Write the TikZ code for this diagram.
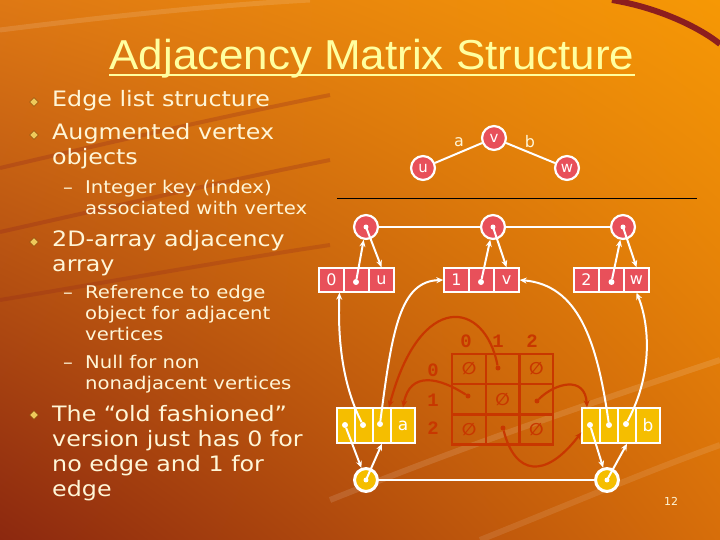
\documentclass[tikz,border=0pt]{standalone}
\usepackage{fontspec}
\usetikzlibrary{arrows.meta,shapes.geometric,calc,shadings}
\newfontfamily\bodyfont[FakeStretch=1.12]{DejaVu Sans}
\newfontfamily\dgfont{DejaVu Sans}
\newfontfamily\titlefont[FakeStretch=1.05]{Liberation Sans}
\newfontfamily\mtxfont{Liberation Mono}
\definecolor{cream}{RGB}{255,246,215}
\definecolor{ttl}{RGB}{255,255,160}
\definecolor{vred}{RGB}{232,80,90}
\definecolor{eyel}{RGB}{245,190,0}
\definecolor{mred}{RGB}{200,55,0}
\definecolor{bgUL}{RGB}{222,120,20}
\definecolor{bgUR}{RGB}{246,152,5}
\definecolor{bgLL}{RGB}{140,40,15}
\definecolor{bgLR}{RGB}{215,110,10}
\definecolor{maroon}{RGB}{140,30,30}
\definecolor{bulletgold}{RGB}{238,200,90}
\begin{document}
\begin{tikzpicture}[x=1bp,y=-1bp,
  lone/.style={anchor=base west,inner sep=0,text=cream,font=\bodyfont\fontsize{21.3}{25}\selectfont},
  ltwo/.style={anchor=base west,inner sep=0,text=cream,font=\bodyfont\fontsize{17.6}{21}\selectfont},
  bul/.style={diamond,fill=bulletgold,draw={rgb,255:red,120;green,60;blue,0},line width=0.4,minimum size=9,inner sep=0},
  vcirc/.style={circle,fill=vred,draw=white,line width=2.2,minimum size=24,inner sep=0,text=white,font=\dgfont\fontsize{15}{15}\selectfont},
  vcell/.style={rectangle,fill=vred,draw=white,line width=1.5,minimum width=25,minimum height=24,inner sep=0,text=white,font=\dgfont\fontsize{16}{16}\selectfont},
  ecell/.style={rectangle,fill=eyel,draw=white,line width=1.5,minimum width=18,minimum height=35,inner sep=0,text=white,font=\dgfont\fontsize{17}{17}\selectfont},
  elab/.style={ecell,minimum width=24},
  ecirc/.style={circle,fill=eyel,draw=white,line width=3,minimum size=23,inner sep=0},
  wdot/.style={circle,fill=white,minimum size=6,inner sep=0},
  rdot/.style={circle,fill=mred,minimum size=5,inner sep=0},
  wline/.style={white,line width=2},
  warrow/.style={white,line width=2,-{Stealth[length=7,width=6]}},
  rarrow/.style={mred,line width=2.2,-{Stealth[length=7,width=6]}},
  mcell/.style={rectangle,draw=mred,line width=2.5,minimum width=33.7,minimum height=30.3,inner sep=0,text=mred,font=\dgfont\bfseries\fontsize{17}{17}\selectfont},
  mlab/.style={inner sep=0,text=mred,font=\mtxfont\bfseries\fontsize{19}{19}\selectfont},
  glab/.style={inner sep=0,text=cream,font=\dgfont\fontsize{16}{16}\selectfont}
]
\useasboundingbox (0,0) rectangle (720,540);
% background
\shade[upper left=bgUL,upper right=bgUR,lower left=bgLL,lower right=bgLR] (0,0) rectangle (720,540);
\draw[maroon,line width=6] (612,0) .. controls (660,8) and (700,28) .. (720,44);
\draw[white,opacity=0.12,line width=5] (0,30) .. controls (120,15) and (220,5) .. (310,0);
\draw[maroon,opacity=0.25,line width=4] (0,168) .. controls (120,140) and (230,115) .. (330,95);
\draw[maroon,opacity=0.25,line width=4] (0,232) .. controls (120,205) and (230,180) .. (330,160);
\draw[maroon,opacity=0.22,line width=4] (0,300) .. controls (120,280) and (230,260) .. (330,245);
\draw[white,opacity=0.12,line width=6] (330,500) .. controls (480,440) and (600,400) .. (720,360);
\draw[white,opacity=0.10,line width=6] (480,540) .. controls (580,500) and (650,470) .. (720,445);

% title
\node[anchor=base,inner sep=0,text=ttl,font=\titlefont\fontsize{42}{50}\selectfont] (title) at (372,70) {Adjacency Matrix Structure};
\draw[ttl,line width=2.5] ([yshift=-5]title.base west) -- ([yshift=-5]title.base east);

% bullets and text
\node[bul] (bu1) at (34,102) {};
\node[bul] (bu2) at (34,135) {};
\node[bul] (bu3) at (34,242) {};
\node[bul] (bu4) at (34,415) {};
\node[lone] (t1) at (52,107) {Edge list structure};
\node[lone] (t2) at (52,140) {Augmented vertex};
\node[lone] (t3) at (52,165) {objects};
\node[ltwo] (ds1) at (63,194) {–};
\node[ltwo] (t4) at (85,194) {Integer key (index)};
\node[ltwo] (t5) at (85,215) {associated with vertex};
\node[lone] (t6) at (52,247) {2D-array adjacency};
\node[lone] (t7) at (52,272) {array};
\node[ltwo] (ds2) at (63,298) {–};
\node[ltwo] (t8) at (85,298) {Reference to edge};
\node[ltwo] (t9) at (85,319) {object for adjacent};
\node[ltwo] (t10) at (85,340) {vertices};
\node[ltwo] (ds3) at (63,368) {–};
\node[ltwo] (t11) at (85,368) {Null for non};
\node[ltwo] (t12) at (85,389) {nonadjacent vertices};
\node[lone] (t13) at (52,421) {The “old fashioned”};
\node[lone] (t14) at (52,446) {version just has 0 for};
\node[lone] (t15) at (52,471) {no edge and 1 for};
\node[lone] (t16) at (52,496) {edge};

% top graph
\node[vcirc] (u) at (423,168) {u};
\node[vcirc] (v) at (494,138) {v};
\node[vcirc] (w) at (567,168) {w};
\draw[wline] (u) -- (v);
\draw[wline] (v) -- (w);
\node[glab] (la) at (459,142) {a};
\node[glab] (lb) at (530,142) {b};
\coordinate (hlA) at (337,198);
\coordinate (hlB) at (697,198);
\draw[black,line width=0.8] (hlA) -- (hlB);

% vertex position circles
\node[vcirc] (c0) at (366,227) {};
\node[vcirc] (c1) at (493,227) {};
\node[vcirc] (c2) at (623,227) {};
\draw[wline] (c0) -- (c1);
\draw[wline] (c1) -- (c2);
\node[wdot,minimum size=5] (cd0) at (366,227) {};
\node[wdot,minimum size=5] (cd1) at (493,227) {};
\node[wdot,minimum size=5] (cd2) at (623,227) {};

% vertex boxes
\node[vcell] (b00) at (331.5,280) {0};
\node[vcell] (b0d) at (356.5,280) {};
\node[vcell] (b0u) at (381.5,280) {u};
\node[vcell] (b10) at (456.5,280) {1};
\node[vcell] (b1d) at (481.5,280) {};
\node[vcell] (b1v) at (506.5,280) {v};
\node[vcell] (b20) at (586.5,280) {2};
\node[vcell] (b2d) at (611.5,280) {};
\node[vcell] (b2w) at (636.5,280) {w};
\node[wdot] (bd0) at (356,282) {};
\node[wdot] (bd1) at (481,282) {};
\node[wdot] (bd2) at (611.5,282) {};
\draw[warrow] (bd0) -- (c0);
\draw[warrow] (c0.center) -- (b0u.north);
\draw[warrow] (bd1) -- (c1);
\draw[warrow] (c1.center) -- (b1v.north);
\draw[warrow] (bd2) -- (c2);
\draw[warrow] (c2.center) -- (b2w.north);

% matrix
\node[mlab] (cl0) at (466,341) {0};
\node[mlab] (cl1) at (498,341) {1};
\node[mlab] (cl2) at (532,341) {2};
\node[mlab] (rl0) at (433,370) {0};
\node[mlab] (rl1) at (433,400) {1};
\node[mlab] (rl2) at (433,428) {2};
\node[mcell] (m00) at (469,369) {∅};
\node[mcell] (m01) at (502.7,369) {};
\node[mcell] (m02) at (536.4,369) {∅};
\node[mcell] (m10) at (469,399.3) {};
\node[mcell] (m11) at (502.7,399.3) {∅};
\node[mcell] (m12) at (536.4,399.3) {};
\node[mcell] (m20) at (469,429.6) {∅};
\node[mcell] (m21) at (502.7,429.6) {};
\node[mcell] (m22) at (536.4,429.6) {∅};
\node[rdot] (md01) at (498,368) {};
\node[rdot] (md10) at (468,396) {};
\node[rdot] (md12) at (537,401) {};
\node[rdot] (md21) at (503,428) {};

% edge boxes
\node[ecell] (ea1) at (346,425.5) {};
\node[ecell] (ea2) at (364,425.5) {};
\node[ecell] (ea3) at (382,425.5) {};
\node[elab] (ea4) at (403,425.5) {a};
\node[ecell] (eb1) at (591,425.5) {};
\node[ecell] (eb2) at (609,425.5) {};
\node[ecell] (eb3) at (627,425.5) {};
\node[elab] (eb4) at (648,425.5) {b};
\node[wdot] (ead1) at (345,425) {};
\node[wdot] (ead2) at (363,425) {};
\node[wdot] (ead3) at (380,424) {};
\node[wdot] (ebd1) at (590,425) {};
\node[wdot] (ebd2) at (609,425) {};
\node[wdot] (ebd3) at (626,424) {};

% edge position circles
\node[ecirc] (ca) at (366,480) {};
\node[ecirc] (cb) at (607,480) {};
\draw[wline] (ca) -- (cb);
\node[wdot,minimum size=5] (cad) at (366,480) {};
\node[wdot,minimum size=5] (cbd) at (607,480) {};
\draw[warrow] (ead1) -- (ca);
\draw[warrow] (ca.center) -- (ea3.south);
\draw[warrow] (ebd1) -- (cb);
\draw[warrow] (cb.center) -- (eb3.south);

% long white connectors
\draw[warrow] (ead2) .. controls (340,380) and (338,330) .. ([xshift=8]b00.south);
\draw[warrow] (ead3) .. controls (392,330) and (400,281) .. (b10.west);
\draw[warrow] (ebd2) .. controls (597,340) and (578,285) .. (b1v.east);
\draw[warrow] (ebd3) .. controls (655,370) and (648,320) .. (b2w.south);

% red connectors
\draw[rarrow] (md01) .. controls (485,300) and (420,290) .. ([xshift=7]ea3.north);
\draw[rarrow] (md10) .. controls (440,378) and (410,370) .. (ea4.north);
\draw[rarrow] (md12) .. controls (555,383) and (585,375) .. ([xshift=-4]eb1.north);
\draw[rarrow] (md21) .. controls (515,475) and (545,480) .. ([yshift=-7]eb1.west);

% page number
\node[inner sep=0,text=cream,font=\dgfont\fontsize{11}{11}\selectfont] (pg) at (671,501) {12};
\end{tikzpicture}
\end{document}
